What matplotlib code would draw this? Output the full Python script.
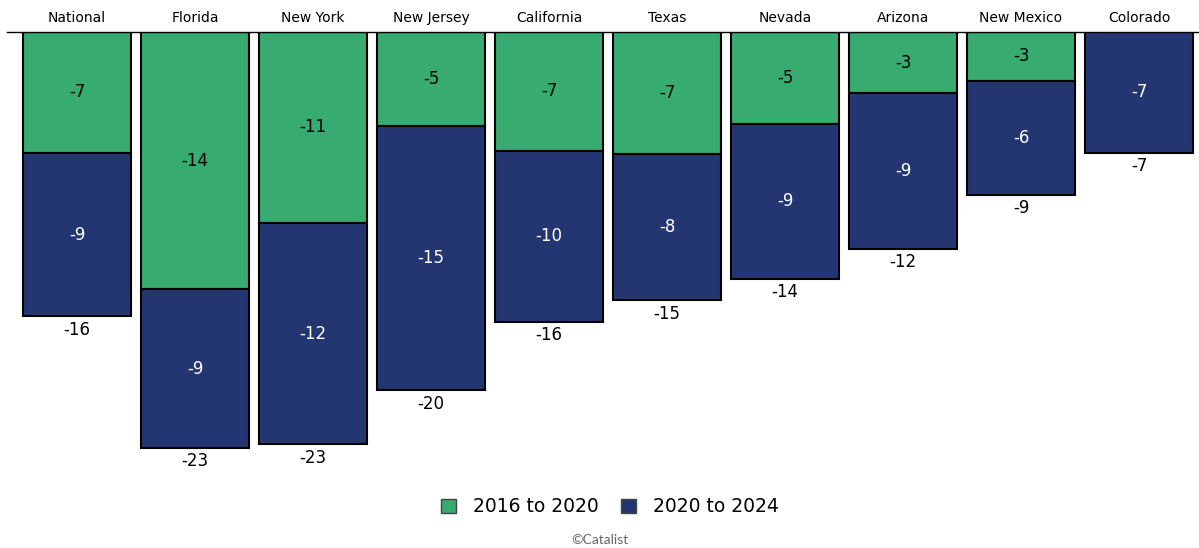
import numpy as np
import matplotlib.pyplot as plt
from matplotlib.patches import Patch

# Shift in vote margin (points)
states = ["National", "Florida", "New York", "New Jersey", "California",
          "Texas", "Nevada", "Arizona", "New Mexico", "Colorado"]
shift_16_20 = [-6.7, -14.3, -10.6, -5.2, -6.6, -6.8, -5.1, -3.4, -2.7, 0.0]
shift_20_24 = [-9.1, -8.8, -12.3, -14.7, -9.5, -8.1, -8.6, -8.65, -6.35, -6.7]

green = "#37ab70"
blue = "#243672"

fig = plt.figure(figsize=(11.99, 5.48), dpi=100)
ax = fig.add_axes([7 / 1199, 1 - 470 / 548, 1 - 7 / 1199, 438 / 548])

x = np.arange(len(states))
a = np.array(shift_16_20)
b = np.array(shift_20_24)
total = a + b
width = 0.907

ax.bar(x, a, width, color=green, edgecolor="black", linewidth=1.5)
ax.bar(x, b, width, bottom=a, color=blue, edgecolor="black", linewidth=1.5)

for i in range(len(states)):
    if abs(a[i]) > 0.5:
        ax.text(x[i], a[i] / 2, f"{a[i]:.0f}", ha="center", va="center",
                fontsize=12, color="black")
    ax.text(x[i], a[i] + b[i] / 2, f"{b[i]:.0f}", ha="center", va="center",
            fontsize=12, color="white")
    ax.text(x[i], total[i] - 0.25, f"{total[i]:.0f}", ha="center", va="top",
            fontsize=12, color="black")

ax.set_xlim(-70 / 118, (1199 - 77) / 118)
ax.set_ylim(-438 / 18, 0)
for side in ["left", "right", "bottom"]:
    ax.spines[side].set_visible(False)
ax.spines["top"].set_linewidth(1.0)
ax.set_yticks([])
ax.xaxis.tick_top()
ax.set_xticks(x)
ax.set_xticklabels(states, fontsize=10)
ax.tick_params(axis="x", length=0, pad=5)

handles = [Patch(facecolor=green, edgecolor="#444444", label="2016 to 2020"),
           Patch(facecolor=blue, edgecolor="#444444", label="2020 to 2024")]
fig.legend(handles=handles, loc="center", bbox_to_anchor=(610 / 1199, 1 - 507 / 548),
           ncol=2, frameon=False, fontsize=13.5, handlelength=0.8,
           handleheight=0.8, handletextpad=0.9, columnspacing=1.2)

fig.text(0.5, 1 - 540 / 548, "\u00a9Catalist", ha="center", va="center",
         fontsize=10, color="#666666", family="Lato")

fig.savefig("out.png", dpi=100)
